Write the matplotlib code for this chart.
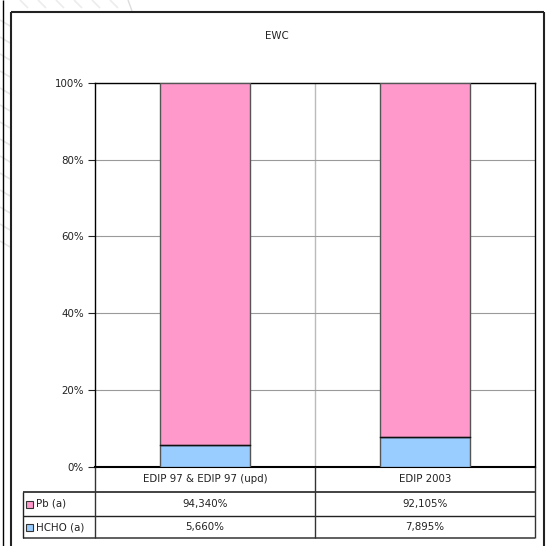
import matplotlib
matplotlib.use("Agg")
import matplotlib.pyplot as plt
from matplotlib.lines import Line2D
from matplotlib.patches import Rectangle
from matplotlib.ticker import FuncFormatter, MultipleLocator

# Data
title = "EWC"
categories = ["EDIP 97 & EDIP 97 (upd)", "EDIP 2003"]
series_names = ["Pb (a)", "HCHO (a)"]
pb_values = [94.340, 92.105]
hcho_values = [5.660, 7.895]
table_labels = {
    "Pb (a)": ["94,340%", "92,105%"],
    "HCHO (a)": ["5,660%", "7,895%"],
}

PINK = "#FF99CC"
BLUE = "#99CCFF"
FS = 7.4

W, H = 548, 546
fig = plt.figure(figsize=(W / 100, H / 100), dpi=100)
fig.patch.set_facecolor("white")


def fx(px):
    return px / W


def fy(py):
    return 1 - py / H


def fline(x0, y0, x1, y1, color="black", lw=1.0, z=5):
    fig.add_artist(Line2D([fx(x0), fx(x1)], [fy(y0), fy(y1)],
                          color=color, lw=lw, transform=fig.transFigure,
                          zorder=z, solid_capstyle="butt"))


# Faint background strokes on the page margin
for i in range(14):
    y = 20 + i * 17
    fline(0, y, 10, y + 6, color="#e6e6e6", lw=1.2, z=1)
for i in range(6):
    x = 20 + i * 18
    fline(x, 0, x + 8, 8, color="#ececec", lw=1.2, z=1)
fline(128, 0, 132, 11, color="#dddddd", lw=1.0, z=1)

# Page border and chart frame
fline(3, 0, 3, H, color="black", lw=1.0)
fline(11, 12, 544, 12, color="#222222", lw=1.5)
fline(11, 12, 11, H, color="#222222", lw=1.5)
fline(544, 12, 544, H, color="#222222", lw=1.5)

# Plot area
ax_l, ax_r, ax_t, ax_b = 95, 535, 82.7, 467
ax = fig.add_axes([fx(ax_l), fy(ax_b), fx(ax_r - ax_l), (ax_b - ax_t) / H])

x = list(range(len(categories)))
bw = 0.405
ax.bar(x, hcho_values, width=bw, color=BLUE, edgecolor="#555555", linewidth=1.0, zorder=3)
ax.bar(x, pb_values, width=bw, bottom=hcho_values, color=PINK, edgecolor="#555555",
       linewidth=1.0, zorder=3)
# segment separators
for xi, h in zip(x, hcho_values):
    ax.plot([xi - bw / 2, xi + bw / 2], [h, h], color="#111111", lw=1.0, zorder=4)

ax.set_xlim(-0.5, len(categories) - 0.5)
ax.set_ylim(0, 100)
ax.yaxis.set_major_locator(MultipleLocator(20))
ax.yaxis.set_major_formatter(FuncFormatter(lambda v, p: f"{int(v)}%"))
ax.grid(axis="y", color="#9a9a9a", lw=0.8, zorder=0)
for b in [0.5]:
    ax.axvline(b, color="#bbbbbb", lw=1.0, zorder=0)
ax.set_xticks([])
ax.tick_params(axis="y", length=5, width=0.8, labelsize=FS, pad=3, colors="#222222")
for s in ax.spines.values():
    s.set_color("black")
    s.set_linewidth(1.0)
ax.spines["bottom"].set_linewidth(1.5)

fig.text(fx(277), fy(36), title, ha="center", va="center", fontsize=FS, color="#222222")

# Data table below the plot
col_edges = [ax_l, (ax_l + ax_r) / 2, ax_r]
row_edges = [467, 492, 516, 538]
leg_l = 23

fline(leg_l, row_edges[1], ax_r, row_edges[1], color="#222222", lw=1.2)
fline(leg_l, row_edges[2], ax_r, row_edges[2], color="#222222", lw=1.0)
fline(leg_l, row_edges[3], ax_r, row_edges[3], color="#444444", lw=1.2)
fline(leg_l, row_edges[1], leg_l, row_edges[3], color="#222222", lw=1.0)
for cx in col_edges:
    fline(cx, row_edges[0], cx, row_edges[3], color="#333333", lw=1.0)

for i, cat in enumerate(categories):
    cx = (col_edges[i] + col_edges[i + 1]) / 2
    fig.text(fx(cx), fy((row_edges[0] + row_edges[1]) / 2), cat,
             ha="center", va="center", fontsize=FS, color="#222222")

colors = {"Pb (a)": PINK, "HCHO (a)": BLUE}
for r, name in enumerate(series_names):
    yc = (row_edges[r + 1] + row_edges[r + 2]) / 2
    sq = 7
    fig.add_artist(Rectangle((fx(26), fy(yc + sq / 2)), sq / W, sq / H,
                             transform=fig.transFigure, facecolor=colors[name],
                             edgecolor="#333333", lw=0.8, zorder=6))
    fig.text(fx(36), fy(yc), name, ha="left", va="center", fontsize=FS, color="#222222")
    for i, lab in enumerate(table_labels[name]):
        cx = (col_edges[i] + col_edges[i + 1]) / 2
        fig.text(fx(cx), fy(yc), lab, ha="center", va="center", fontsize=FS, color="#222222")

fig.savefig("out.png", dpi=100)
